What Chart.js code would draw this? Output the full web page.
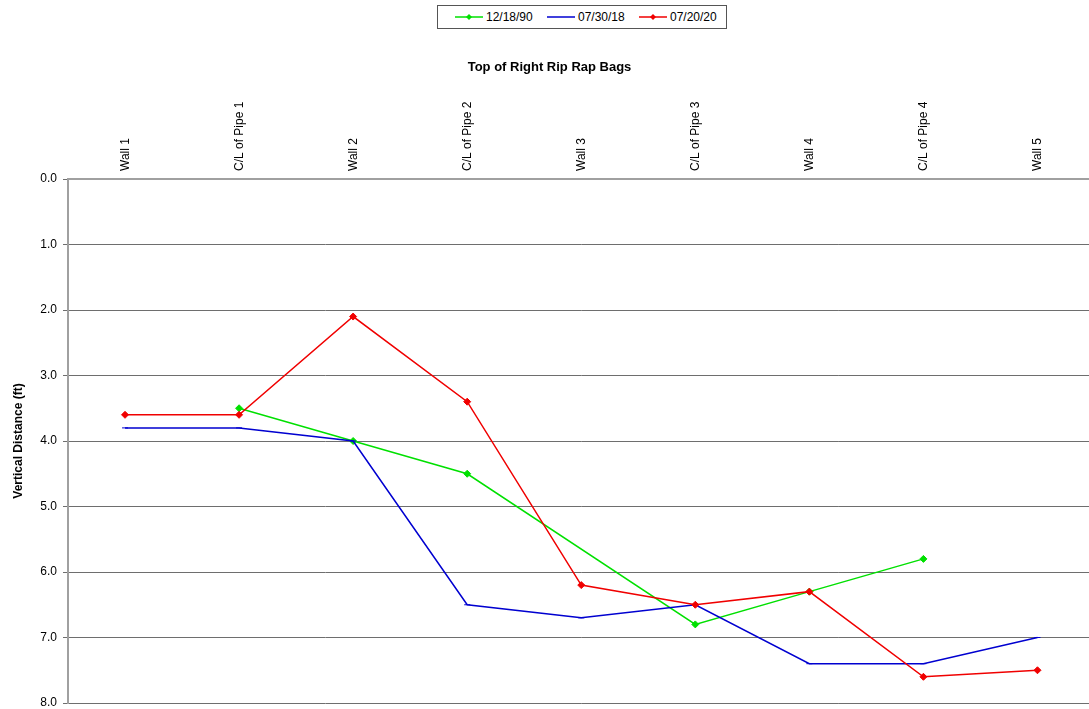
<!DOCTYPE html>
<html>
<head>
<meta charset="utf-8">
<script src="https://cdn.jsdelivr.net/npm/chart.js@4"></script>
<style>
html,body{margin:0;padding:0;background:#fff;overflow:hidden;width:1089px;height:709px;}
#wrap{position:absolute;left:0;top:0;width:1099px;height:709px;}
#legend{position:absolute;left:437px;top:5px;width:288px;height:22px;border:1px solid #555;background:#fff;font-family:"Liberation Sans",Arial,sans-serif;font-size:12px;color:#000;z-index:2;}
.li{position:absolute;top:0;height:22px;line-height:22px;white-space:nowrap;}
.li canvas{vertical-align:middle;margin-right:3px;position:relative;top:-1px;}
</style>
</head>
<body>
<div id="legend"></div>
<div id="wrap"><canvas id="c" width="1099" height="709" style="width:1099px;height:709px;"></canvas></div>
<script>
const categories = ["Wall 1","C/L of Pipe 1","Wall 2","C/L of Pipe 2","Wall 3","C/L of Pipe 3","Wall 4","C/L of Pipe 4","Wall 5"];
const seriesNames = ["12/18/90","07/30/18","07/20/20"];
const values1990 = [null, 3.5, 4.0, 4.5, null, 6.8, 6.3, 5.8, null];
const values2018 = [3.8, 3.8, 4.0, 6.5, 6.7, 6.5, 7.4, 7.4, 7.0];
const values2020 = [3.6, 3.6, 2.1, 3.4, 6.2, 6.5, 6.3, 7.6, 7.5];
const yTicks = [0,1,2,3,4,5,6,7,8];

const colors = ['#00e000','#0000d0','#f00000'];
const styles = ['rectRot','line','rectRot'];
const radii = [3.5, 3, 3.5];
const orders = [3, 2, 1];

// HTML legend
const legend = document.getElementById('legend');
const lx = [17, 109, 201];
seriesNames.forEach((n,i)=>{
  const d = document.createElement('div');
  d.className='li'; d.style.left = lx[i]+'px';
  const cv = document.createElement('canvas'); cv.width=28; cv.height=8;
  const g = cv.getContext('2d');
  g.strokeStyle=colors[i]; g.lineWidth=1.5; g.beginPath(); g.moveTo(0,4); g.lineTo(28,4); g.stroke();
  if(styles[i]==='rectRot'){ g.fillStyle=colors[i]; g.beginPath(); g.moveTo(14,1); g.lineTo(17,4); g.lineTo(14,7); g.lineTo(11,4); g.closePath(); g.fill(); }
  d.appendChild(cv);
  d.appendChild(document.createTextNode(n));
  legend.appendChild(d);
});

const allData = [values1990, values2018, values2020];
new Chart(document.getElementById('c'), {
  type: 'line',
  data: {
    labels: categories,
    datasets: seriesNames.map((n,i)=>({
      label: n,
      data: allData[i],
      order: orders[i],
      borderColor: colors[i],
      backgroundColor: colors[i],
      borderWidth: 1.5,
      pointStyle: styles[i],
      pointRadius: radii[i],
      pointBorderWidth: 1,
      pointHoverRadius: radii[i],
      spanGaps: true,
      tension: 0,
      fill: false
    }))
  },
  options: {
    responsive: false,
    animation: false,
    devicePixelRatio: 1,
    layout: { padding: { left: 0, right: 0, top: 0, bottom: 6 } },
    plugins: {
      legend: { display: false },
      tooltip: { enabled: false },
      title: {
        display: true,
        text: 'Top of Right Rip Rap Bags',
        color: '#000',
        font: { family: '"Liberation Sans", Arial, sans-serif', size: 13, weight: 'bold' },
        padding: { top: 60, bottom: 10 }
      }
    },
    scales: {
      x: {
        type: 'category',
        position: 'top',
        offset: true,
        grid: { display: false, drawTicks: false },
        border: { display: true, color: '#a0a0a0', width: 2 },
        ticks: {
          color: '#000',
          minRotation: 90, maxRotation: 90,
          autoSkip: false,
          padding: 8,
          labelOffset: 15,
          font: { family: '"Liberation Sans", Arial, sans-serif', size: 12 }
        },
        afterFit: (s) => { s.height = 93.4; s.paddingLeft = 0; s.paddingRight = 0; }
      },
      y: {
        reverse: true,
        min: 0, max: 8,
        afterBuildTicks: (s) => { s.ticks = yTicks.map(v=>({value:v})); },
        grid: { color: '#6e6e6e', lineWidth: 1, drawTicks: true, tickLength: 5 },
        border: { display: true, color: '#a0a0a0', width: 2 },
        ticks: {
          color: '#000',
          padding: 6,
          font: { family: '"Liberation Sans", Arial, sans-serif', size: 12 },
          callback: (v) => Number(v).toFixed(1)
        },
        title: {
          display: true,
          text: 'Vertical Distance (ft)',
          color: '#000',
          font: { family: '"Liberation Sans", Arial, sans-serif', size: 12, weight: 'bold' },
          padding: { top: 11, bottom: 0 }
        },
        afterFit: (s) => { s.width = 68; s.paddingTop = 0; s.paddingBottom = 0; }
      }
    }
  }
});
</script>
</body>
</html>
